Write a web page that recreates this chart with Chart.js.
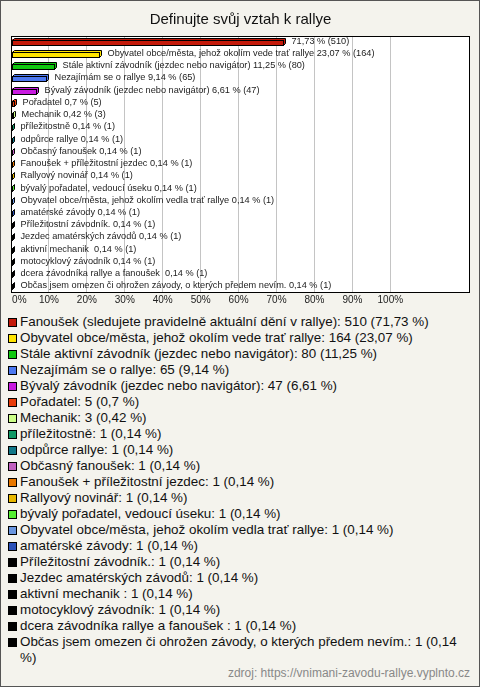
<!DOCTYPE html>
<html>
<head>
<meta charset="utf-8">
<script src="https://cdn.jsdelivr.net/npm/chart.js@4.4.1/dist/chart.umd.min.js"></script>
<style>
    html, body { margin: 0; padding: 0; }
    body { width: 480px; height: 687px; overflow: hidden; }
    #frame {
        position: relative;
        width: 480px;
        height: 687px;
        box-sizing: border-box;
        border: 1px solid #555;
        background: #f4f3ed;
        font-family: "Liberation Sans", Arial, sans-serif;
    }
    #chartBox { position: absolute; left: -1px; top: -1px; width: 480px; height: 307px; }
    #legend { position: absolute; left: 7px; top: 313px; width: 462px; font-size: 13.4px; line-height: 16px; color: #111; }
    .item { display: flex; align-items: flex-start; }
    .sw { flex: none; width: 7px; height: 7px; border: 1px solid #000; margin: 4px 3px 0 0; }
    #source { position: absolute; right: 9px; top: 665px; font-size: 12px; color: #888; }
</style>
</head>
<body>
<div id="frame">
    <div id="chartBox"><canvas id="relChart"></canvas></div>
    <div id="legend"></div>
    <div id="source">zdroj: https://vnimani-zavodu-rallye.vyplnto.cz</div>
</div>
<script>
// Answers (multiple choice, so the percentages add up to more than 100)
const categories = [
    'Fanoušek (sledujete pravidelně aktuální dění v rallye)',
    'Obyvatel obce/města, jehož okolím vede trať rallye',
    'Stále aktivní závodník (jezdec nebo navigátor)',
    'Nezajímám se o rallye',
    'Bývalý závodník (jezdec nebo navigátor)',
    'Pořadatel',
    'Mechanik',
    'příležitostně',
    'odpůrce rallye',
    'Občasný fanoušek',
    'Fanoušek + příležitostní jezdec',
    'Rallyový novinář',
    'bývalý pořadatel, vedoucí úseku',
    'Obyvatel obce/města, jehož okolím vedla trať rallye',
    'amatérské závody',
    'Příležitostní závodník.',
    'Jezdec amatérských závodů',
    'aktivní mechanik ',
    'motocyklový závodník',
    'dcera závodníka rallye a fanoušek ',
    'Občas jsem omezen či ohrožen závody, o kterých předem nevím.'
];
const counts = [510, 164, 80, 65, 47, 5, 3, 1, 1, 1, 1, 1, 1, 1, 1, 1, 1, 1, 1, 1, 1];
const percents = [71.73, 23.07, 11.25, 9.14, 6.61, 0.7, 0.42, 0.14, 0.14, 0.14, 0.14, 0.14, 0.14, 0.14, 0.14, 0.14, 0.14, 0.14, 0.14, 0.14, 0.14];
const colors = [
    '#c41a0a', '#ffe400', '#11c811', '#4c78f0', '#c81ae0', '#e83c0a', '#ccff88',
    '#119966', '#117788', '#c060c0', '#e87800', '#e8b800', '#55ee33', '#6a96e0',
    '#2a50b8', '#000000', '#000000', '#000000', '#000000', '#000000', '#000000'
];
const tickValues = [0, 10, 20, 30, 40, 50, 60, 70, 80, 90, 100];

const FONT = '"Liberation Sans", Arial, sans-serif';
const DEPTH = 2;

function czNum(v) {
    return String(v).replace('.', ',');
}

// White plot area with a black frame
const plotFrame = {
    id: 'plotFrame',
    beforeDraw(chart) {
        const { ctx, chartArea: a } = chart;
        ctx.save();
        ctx.fillStyle = '#ffffff';
        ctx.fillRect(a.left, a.top, a.right - a.left, a.bottom - a.top);
        ctx.restore();
    },
    afterDraw(chart) {
        const { ctx, chartArea: a } = chart;
        ctx.save();
        ctx.strokeStyle = '#000';
        ctx.lineWidth = 1;
        ctx.strokeRect(Math.round(a.left) + 0.5, Math.round(a.top) + 0.5,
            Math.round(a.right - a.left) - 1, Math.round(a.bottom - a.top) - 1);
        ctx.restore();
    }
};

// 3D-looking bars plus the text after each bar
const bars3d = {
    id: 'bars3d',
    afterDatasetsDraw(chart) {
        const ctx = chart.ctx;
        const meta = chart.getDatasetMeta(0);
        const area = chart.chartArea;
        ctx.save();
        meta.data.forEach((el, i) => {
            const left = Math.round(Math.min(el.base, el.x)) + 0.5;
            const right = Math.round(Math.max(el.base, el.x)) + 0.5;
            const top = Math.round(el.y - el.height / 2) + 0.5;
            const bottom = top + el.height;
            ctx.lineWidth = 1;
            ctx.strokeStyle = '#000';
            ctx.fillStyle = colors[i];
            // top and side faces
            ctx.beginPath();
            ctx.moveTo(left, top);
            ctx.lineTo(left + DEPTH, top - DEPTH);
            ctx.lineTo(right + DEPTH, top - DEPTH);
            ctx.lineTo(right + DEPTH, bottom - DEPTH);
            ctx.lineTo(right, bottom);
            ctx.lineTo(right, top);
            ctx.closePath();
            ctx.fill();
            ctx.stroke();
            // front face
            ctx.fillRect(left, top, right - left, bottom - top);
            ctx.strokeRect(left, top, right - left, bottom - top);

            // label
            ctx.font = '9.2px ' + FONT;
            ctx.fillStyle = '#222';
            ctx.textBaseline = 'middle';
            const valueText = czNum(percents[i]) + ' % (' + counts[i] + ')';
            let text = categories[i] + ' ' + valueText;
            const tx = right + DEPTH + 6;
            if (tx + ctx.measureText(text).width > area.right - 2) {
                text = valueText;
            }
            ctx.fillText(text, tx, el.y - 1);
        });
        ctx.restore();
    }
};

const ctx = document.getElementById('relChart').getContext('2d');
new Chart(ctx, {
    type: 'bar',
    data: {
        labels: categories,
        datasets: [{
            data: percents,
            backgroundColor: colors,
            borderWidth: 0,
            barThickness: 5
        }]
    },
    options: {
        indexAxis: 'y',
        responsive: true,
        maintainAspectRatio: false,
        animation: false,
        layout: {
            padding: { left: 11, right: 10, top: 0, bottom: 0 }
        },
        plugins: {
            legend: { display: false },
            tooltip: { enabled: false },
            title: {
                display: true,
                text: 'Definujte svůj vztah k rallye',
                color: '#111',
                font: { size: 15, family: FONT, weight: 'normal' },
                padding: { top: 11, bottom: 7 }
            }
        },
        scales: {
            y: {
                display: false
            },
            x: {
                type: 'linear',
                min: 0,
                max: 121,
                afterBuildTicks: function(scale) {
                    scale.ticks = tickValues.map(v => ({ value: v }));
                },
                afterFit: function(scale) {
                    // labels may overhang; keep the plot edges where they are
                    scale.paddingLeft = 0;
                    scale.paddingRight = 0;
                },
                grid: {
                    color: '#c4c4c4',
                    drawTicks: false
                },
                border: { display: false },
                ticks: {
                    padding: 1,
                    color: '#222',
                    autoSkip: false,
                    maxRotation: 0,
                    font: { size: 10, family: FONT },
                    callback: function(value) {
                        // the first label sits right of the axis line
                        return (value === 0 ? '      ' : '') + value + '%';
                    }
                }
            }
        }
    },
    plugins: [plotFrame, bars3d]
});

// Legend below the chart, built from the same arrays
const legend = document.getElementById('legend');
categories.forEach((name, i) => {
    const row = document.createElement('div');
    row.className = 'item';
    const sw = document.createElement('span');
    sw.className = 'sw';
    sw.style.background = colors[i];
    const txt = document.createElement('span');
    txt.textContent = name + ': ' + counts[i] + ' (' + czNum(percents[i]) + ' %)';
    row.appendChild(sw);
    row.appendChild(txt);
    legend.appendChild(row);
});
</script>
</body>
</html>
